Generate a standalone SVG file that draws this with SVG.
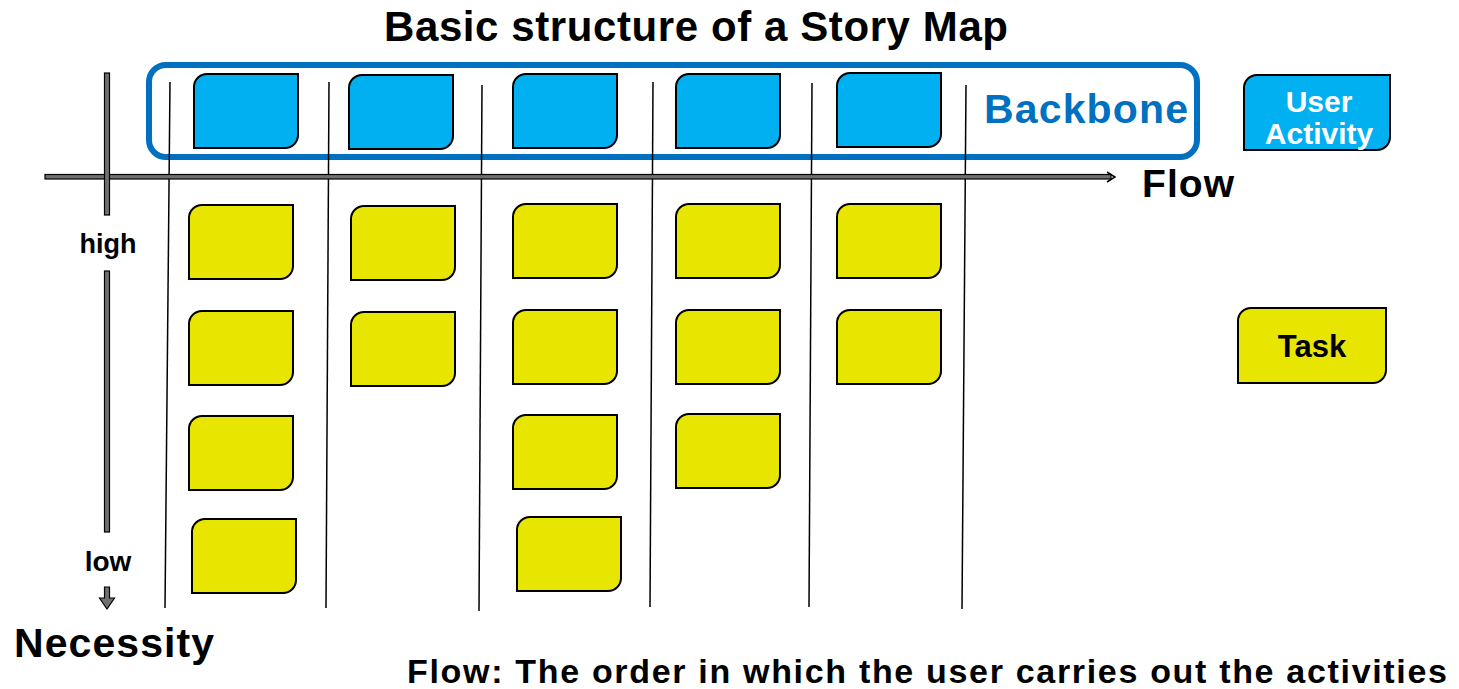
<svg xmlns="http://www.w3.org/2000/svg" xmlns:xlink="http://www.w3.org/1999/xlink" width="1459" height="689" viewBox="0 0 1459 689">
<style>
text{font-family:"Liberation Sans",Arial,sans-serif;font-weight:bold;}
.blue{fill:#00B0F0;stroke:#000;stroke-width:2;}
.yellow{fill:#E8E600;stroke:#000;stroke-width:2;}
.col{stroke:#000;stroke-width:1.5;fill:none;}
.bar{fill:#707070;stroke:#000;stroke-width:1.2;}
</style>
<defs>
<path id="card" d="M13,0 H104 V61 A13,13 0 0 1 91,74 H0 V13 A13,13 0 0 1 13,0 Z"/>
</defs>
<rect width="1459" height="689" fill="#fff"/>
<text x="384" y="41" font-size="42" textLength="624" lengthAdjust="spacing">Basic structure of a Story Map</text>

<g id="backbone">
<rect x="149" y="65" width="1048" height="92" rx="17" fill="none" stroke="#0070C0" stroke-width="6"/>
<text x="984" y="123" font-size="41" fill="#0070C0" textLength="204" lengthAdjust="spacing">Backbone</text>
</g>

<g id="connectors">
<line class="col" x1="170" y1="82" x2="165" y2="608"/>
<line class="col" x1="329" y1="82" x2="326" y2="608"/>
<line class="col" x1="482" y1="85" x2="479" y2="611"/>
<line class="col" x1="653" y1="82" x2="650" y2="607"/>
<line class="col" x1="812" y1="83" x2="809" y2="607"/>
<line class="col" x1="966" y1="85" x2="962" y2="609"/>
<rect class="bar" x="45" y="174.5" width="1066" height="4.5"/>
<path d="M1107,172 L1115,177 L1107,182" fill="none" stroke="#000" stroke-width="1.5"/>
<rect class="bar" x="104.5" y="73" width="5" height="142"/>
<rect class="bar" x="104.5" y="271" width="5" height="261"/>
<path class="bar" d="M104.5,587 H109.5 V598 H114.5 L107,609 L99.5,598 H104.5 Z"/>
</g>

<g id="activities">
<use xlink:href="#card" class="blue" x="194" y="74"/>
<use xlink:href="#card" class="blue" x="349" y="75"/>
<use xlink:href="#card" class="blue" x="513" y="74"/>
<use xlink:href="#card" class="blue" x="676" y="74"/>
<use xlink:href="#card" class="blue" x="837" y="73"/>
</g>

<g id="tasks-col1">
<use xlink:href="#card" class="yellow" x="189" y="205"/>
<use xlink:href="#card" class="yellow" x="189" y="311"/>
<use xlink:href="#card" class="yellow" x="189" y="416"/>
<use xlink:href="#card" class="yellow" x="192" y="519"/>
</g>
<g id="tasks-col2">
<use xlink:href="#card" class="yellow" x="351" y="206"/>
<use xlink:href="#card" class="yellow" x="351" y="312"/>
</g>
<g id="tasks-col3">
<use xlink:href="#card" class="yellow" x="513" y="204"/>
<use xlink:href="#card" class="yellow" x="513" y="310"/>
<use xlink:href="#card" class="yellow" x="513" y="415"/>
<use xlink:href="#card" class="yellow" x="517" y="517"/>
</g>
<g id="tasks-col4">
<use xlink:href="#card" class="yellow" x="676" y="204"/>
<use xlink:href="#card" class="yellow" x="676" y="310"/>
<use xlink:href="#card" class="yellow" x="676" y="414"/>
</g>
<g id="tasks-col5">
<use xlink:href="#card" class="yellow" x="837" y="204"/>
<use xlink:href="#card" class="yellow" x="837" y="310"/>
</g>

<g id="legend-activity">
<path class="blue" d="M1257,75 H1390 V137 A13,13 0 0 1 1377,150 H1244 V88 A13,13 0 0 1 1257,75 Z"/>
<text x="1319" y="112" font-size="30" fill="#fff" text-anchor="middle">User</text>
<text x="1319" y="144" font-size="30" fill="#fff" text-anchor="middle">Activity</text>
</g>
<g id="legend-task">
<path class="yellow" d="M1251,308 H1386 V370 A13,13 0 0 1 1373,383 H1238 V321 A13,13 0 0 1 1251,308 Z"/>
<text x="1312" y="357" font-size="31" text-anchor="middle">Task</text>
</g>

<g id="labels">
<text x="1142" y="197" font-size="39" textLength="92" lengthAdjust="spacing">Flow</text>
<text x="108" y="253" font-size="27" text-anchor="middle">high</text>
<text x="108" y="571" font-size="28" text-anchor="middle">low</text>
<text x="14" y="657" font-size="41" textLength="200" lengthAdjust="spacing">Necessity</text>
<text x="407" y="683" font-size="34" textLength="1040" lengthAdjust="spacing">Flow: The order in which the user carries out the activities</text>
</g>
</svg>
